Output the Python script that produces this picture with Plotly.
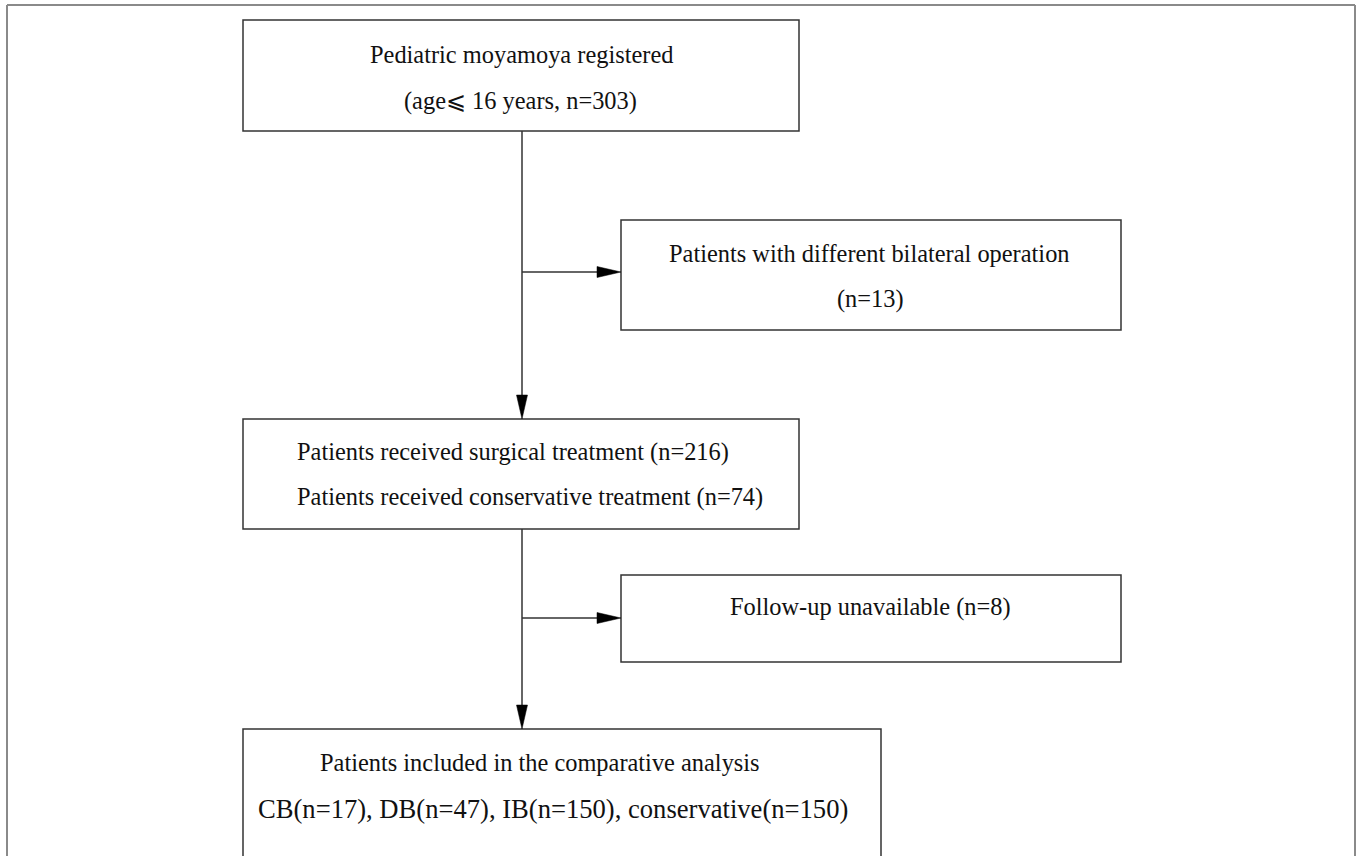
import plotly.graph_objects as go

# ---- data (flow counts) ----
registered_n = 303
age_limit = 16
bilateral_diff_n = 13
surgical_n = 216
conservative_n = 74
lost_followup_n = 8
group_names = ["CB", "DB", "IB", "conservative"]
group_n = [17, 47, 150, 150]

W, H = 1357, 856
LINE = "#333333"
FAM = "Liberation Serif, Times New Roman, serif"

fig = go.Figure()
shapes = []
annots = []

def box(x0, y0, x1, y1):
    shapes.append(dict(type="rect", xref="x", yref="y", x0=x0, y0=y0, x1=x1, y1=y1,
                       line=dict(color=LINE, width=1.5), fillcolor="rgba(0,0,0,0)"))

def line(x0, y0, x1, y1, color=LINE, width=1.5):
    shapes.append(dict(type="line", xref="x", yref="y", x0=x0, y0=y0, x1=x1, y1=y1,
                       line=dict(color=color, width=width)))

def head_down(x, ytip, L=24, hw=5.5):
    shapes.append(dict(type="path", xref="x", yref="y",
                       path=f"M {x-hw},{ytip-L} L {x+hw},{ytip-L} L {x},{ytip} Z",
                       fillcolor="#000000", line=dict(color="#000000", width=0.5)))

def head_right(xtip, y, L=24, hw=5.5):
    shapes.append(dict(type="path", xref="x", yref="y",
                       path=f"M {xtip-L},{y-hw} L {xtip-L},{y+hw} L {xtip},{y} Z",
                       fillcolor="#000000", line=dict(color="#000000", width=0.5)))

def text(x, y, s, anchor="center", size=24.4):
    annots.append(dict(x=x, y=y, xref="x", yref="y", text=s, showarrow=False,
                       xanchor=anchor, yanchor="middle",
                       font=dict(family=FAM, size=size, color="#111111")))

# outer frame
FR = "#8a8a8a"
line(7, 5, 1355, 5, FR, 2)
line(7, 5, 7, H + 20, FR, 2)
line(1355, 5, 1355, H + 20, FR, 2)

# boxes
box(243, 20, 799, 131)
box(621, 220, 1121, 330)
box(243, 419, 799, 529)
box(621, 575, 1121, 662)
box(243, 729, 881, 880)

# connectors
cx = 522
line(cx, 131, cx, 400)
head_down(cx, 419)
line(cx, 272, 600, 272)
head_right(621, 272)
line(cx, 529, cx, 710)
head_down(cx, 729)
line(cx, 618, 600, 618)
head_right(621, 618)

# texts
text(521, 54, "Pediatric moyamoya registered")
text(520, 101, f"(age\u2a7d {age_limit} years, n={registered_n})")
text(869, 253, "Patients with different bilateral operation")
text(870, 299, f"(n={bilateral_diff_n})")
text(295, 452, f"Patients received surgical treatment (n={surgical_n})", anchor="left")
text(295, 497, f"Patients received conservative treatment (n={conservative_n})", anchor="left")
text(870, 607, f"Follow-up unavailable (n={lost_followup_n})")
text(540, 762, "Patients included in the comparative analysis")
groups_txt = ", ".join(f"{g}(n={n})" for g, n in zip(group_names, group_n))
text(553, 809, groups_txt, size=26.6)

fig.update_layout(
    width=W, height=H, margin=dict(l=0, r=0, t=0, b=0),
    paper_bgcolor="white", plot_bgcolor="white",
    xaxis=dict(range=[0, W], visible=False, fixedrange=True),
    yaxis=dict(range=[H, 0], visible=False, fixedrange=True),
    shapes=shapes, annotations=annots, showlegend=False,
)
fig.write_html(
    "out.html",
    config={"displayModeBar": False, "staticPlot": True},
    post_script="document.body.style.margin='0';document.body.style.overflow='hidden';",
)
